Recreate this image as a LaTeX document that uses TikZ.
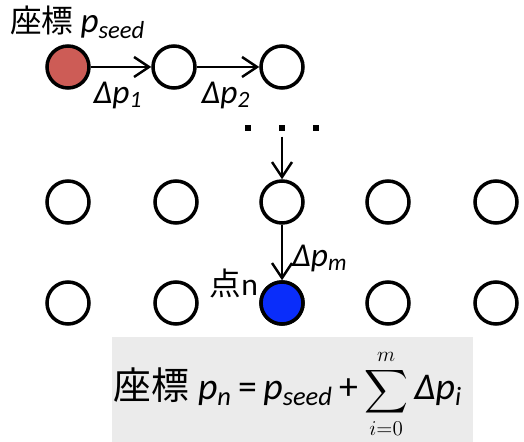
\documentclass[tikz,border=0pt]{standalone}
\usepackage{amsmath}
\usepackage{exscale}
\usepackage{fontspec}
\setmainfont{Carlito}
\newfontfamily\jpfont{Noto Sans CJK JP}
\usetikzlibrary{arrows.meta,positioning}

\definecolor{seedred}{RGB}{205,92,86}
\definecolor{hitblue}{RGB}{10,45,250}

\newcommand{\limsz}[1]{\mbox{\fontsize{13}{13}\selectfont$#1$}}

\begin{document}
\begin{tikzpicture}[
    x=0.02cm, y=-0.02cm,
    font=\fontsize{18}{21}\selectfont,
    site/.style={circle, draw=black, line width=2pt, fill=white,
      minimum size=0.84cm, inner sep=0pt},
    seed/.style={site, fill=seedred},
    hit/.style={site, fill=hitblue},
    ell/.style={fill=black, minimum size=0.12cm, inner sep=0pt},
    arrow/.style={-{Straight Barb[length=3mm, width=4mm]}, line width=1.4pt},
    lbl/.style={inner sep=1pt, font=\fontsize{19}{22}\selectfont\itshape},
    fbox/.style={fill=black!8, minimum width=7.22cm, minimum height=2.1cm,
      inner sep=0pt},
    ftext/.style={inner sep=0pt, font=\fontsize{21.5}{25}\selectfont}
  ]
  \useasboundingbox (0,0) rectangle (524,442);
  %---- SEED CHAIN ----
  \node[seed] (s0) at (68,67) {};
  \node[site] (s1) at (174,67) {};
  \node[site] (s2) at (282,67) {};
  \draw[arrow] (s0) -- (s1);
  \draw[arrow] (s1) -- (s2);
  \node[inner sep=1pt, anchor=base west] (title) at (8,33)
    {{\jpfont 座標} {\fontsize{20}{22}\selectfont\textit{p}\textsubscript{\itshape seed}}};
  \node[lbl] (d1) at (118,95) {Δp\textsubscript{1}};
  \node[lbl] (d2) at (226,95) {Δp\textsubscript{2}};
  %---- DOTS ----
  \node[ell] (e1) at (248,128) {};
  \node[ell] (e2) at (282,128) {};
  \node[ell] (e3) at (316,128) {};
  %---- GRID ----
  \foreach \c/\x in {1/68,2/176,3/282,4/388,5/496} {
    \node[site] (g\c-1) at (\x,202) {};
    \node[site] (g\c-2) at (\x,303) {};
  }
  \node[hit] (n) at (282,303) {};
  \draw[arrow, shorten <=3pt] (e2) -- (g3-1);
  \draw[arrow] (g3-1) -- (n);
  \node[lbl, anchor=west] (dm) at (290,258) {Δp\textsubscript{m}};
  \node[inner sep=1pt, anchor=east] (ptn) at (260,283) {{\jpfont 点}n};
  %---- FORMULA ----
  \node[fbox] (box) at (292.5,389.5) {};
  \node[ftext] (formula) at (288,394)
    {{\jpfont 座標} \textit{p}\textsubscript{\itshape n}\,=\,\textit{p}\textsubscript{\itshape seed}\,+\,%
     {\fontsize{19}{19}\selectfont$\displaystyle\sum_{\limsz{i{=}0}}^{\limsz{m}}$}\,\textit{Δp}\textsubscript{\itshape i}};
\end{tikzpicture}
\end{document}
